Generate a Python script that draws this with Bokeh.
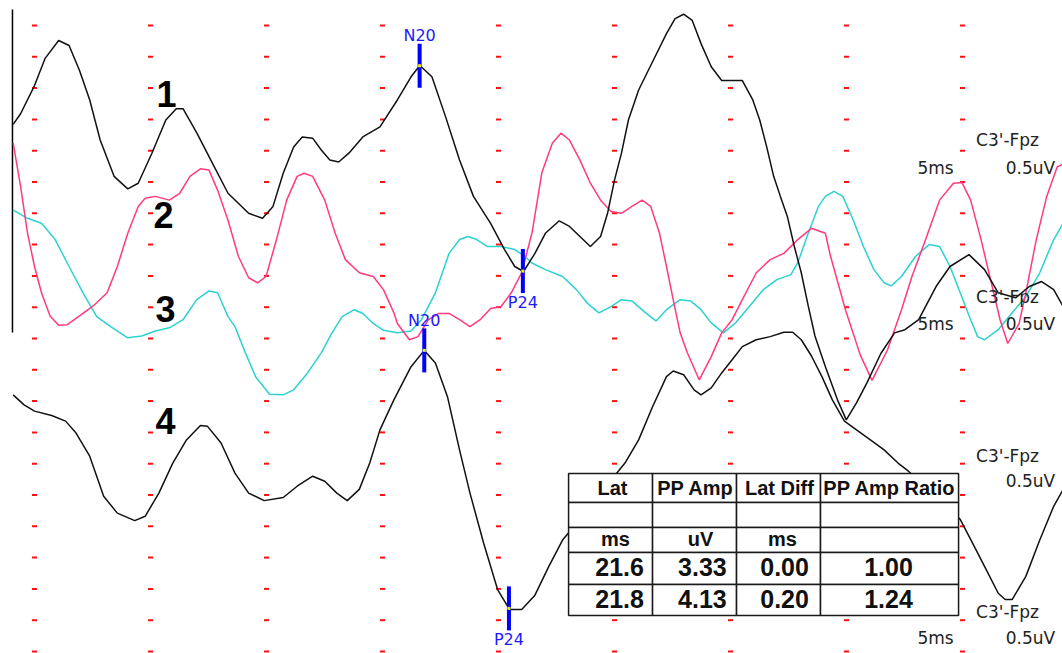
import numpy as np
from bokeh.plotting import figure
from bokeh.models import Range1d
from bokeh.embed import file_html
from bokeh.resources import INLINE
from bokeh.core.properties import value

# ---------------- data (time in ms, amplitude in uV) ----------------
t1 = [4.08, 4.40, 5.00, 5.45, 6.04, 6.49, 6.94, 7.38, 7.83, 8.43, 9.02, 9.47, 10.06, 10.66, 11.11, 11.40,
      12.00, 12.60, 13.34, 14.23, 14.83, 15.28, 15.72, 16.17, 16.54, 16.99, 17.36, 17.73, 18.11, 18.55,
      19.15, 19.89, 20.64, 21.23, 21.61, 22.13, 22.72, 23.32, 23.92, 24.66, 25.26, 25.70, 26.08, 26.57,
      27.02, 27.62, 28.06, 28.51, 28.96, 29.40, 29.70, 30.00, 30.30, 30.60, 31.04, 31.64, 32.24, 32.61,
      32.98, 33.35, 33.73, 34.17, 34.62, 35.07, 35.51, 35.96, 36.26, 36.56, 36.86, 37.15, 37.45, 37.75,
      38.05, 38.35, 38.64, 39.09, 39.61, 39.99, 40.43, 40.88, 41.48, 42.07, 42.52, 43.11, 43.86, 44.46,
      45.28, 45.95, 46.54, 47.29, 47.88, 48.41, 48.93, 49.34]
a1 = [0.92, 1.09, 1.54, 1.97, 2.26, 2.18, 1.78, 1.31, 0.67, 0.09, -0.11, -0.02, 0.46, 0.99, 1.17, 1.17,
      0.78, 0.35, -0.18, -0.50, -0.58, -0.39, 0.14, 0.56, 0.72, 0.70, 0.51, 0.35, 0.32, 0.46,
      0.72, 0.88, 1.31, 1.68, 1.86, 1.68, 1.04, 0.35, -0.23, -0.66, -1.08, -1.35, -1.43, -1.14,
      -0.82, -0.62, -0.71, -0.87, -1.03, -0.87, -0.50, 0.03, 0.46, 0.99, 1.47, 1.92, 2.37, 2.61,
      2.68, 2.58, 2.21, 1.84, 1.62, 1.62, 1.62, 1.31, 0.99, 0.56, 0.09, -0.23, -0.55, -1.03,
      -1.45, -1.98, -2.46, -2.95, -3.48, -3.80, -3.53, -3.21, -2.74, -2.41, -2.36, -2.20, -1.67, -1.35,
      -1.16, -1.40, -1.77, -1.85, -1.67, -1.59, -1.72, -1.99]

t2 = [4.08, 4.40, 4.70, 5.00, 5.30, 5.67, 6.04, 6.41, 6.94, 7.53, 8.13, 8.57, 9.02, 9.47, 9.77, 10.21,
      10.81, 11.26, 11.70, 12.15, 12.52, 12.89, 13.34, 13.79, 14.23, 14.61, 14.98, 15.43, 15.87, 16.32,
      16.62, 16.99, 17.51, 17.96, 18.40, 19.00, 19.60, 20.04, 20.49, 20.64, 21.16, 21.53, 21.98, 22.43,
      22.87, 23.32, 23.77, 24.21, 24.66, 25.11, 25.55, 26.00, 26.45, 26.87, 27.32, 27.69, 28.06, 28.51,
      28.96, 29.40, 29.85, 30.30, 30.75, 31.19, 31.56, 31.94, 32.24, 32.53, 32.83, 33.13, 33.65, 34.17,
      34.62, 35.07, 35.51, 36.11, 36.71, 37.30, 37.90, 38.49, 39.09, 39.30, 39.96, 40.60, 41.10, 41.77,
      42.37, 42.82, 43.41, 44.01, 44.61, 44.98, 45.35, 45.80, 46.24, 46.62, 46.95, 47.44, 47.73, 48.18,
      48.63, 49.08, 49.40]
a2 = [1.62, 0.93, 0.18, -0.35, -0.77, -1.14, -1.29, -1.28, -1.14, -0.98, -0.77, -0.35, 0.18, 0.61, 0.74, 0.77,
      0.71, 0.82, 1.09, 1.21, 1.19, 0.87, 0.39, -0.19, -0.53, -0.61, -0.51, 0.08, 0.71, 1.09,
      1.14, 1.09, 0.71, 0.18, -0.24, -0.45, -0.51, -0.72, -1.09, -1.26, -1.52, -1.47, -1.20, -1.10,
      -1.10, -1.20, -1.31, -1.20, -1.02, -0.99, -0.77, -0.45, 0.20, 1.15, 1.62, 1.78, 1.67, 1.35,
      0.98, 0.71, 0.53, 0.50, 0.61, 0.71, 0.61, 0.18, -0.35, -0.88, -1.41, -1.72, -2.16, -1.79,
      -1.41, -1.20, -0.88, -0.45, -0.24, -0.14, 0.08, 0.26, 0.18, -0.17, -1.05, -1.77, -2.17, -1.68,
      -1.04, -0.51, 0.08, 0.71, 0.98, 0.99, 0.71, 0.08, -0.61, -1.20, -1.58, -1.26, -0.77, 0.08,
      0.77, 1.24, 1.30]

t3 = [4.08, 4.70, 5.30, 5.89, 6.49, 7.09, 7.68, 8.28, 9.02, 9.62, 10.21, 10.81, 11.40, 11.99, 12.52, 12.89,
      13.34, 13.64, 14.09, 14.53, 15.13, 15.72, 16.17, 16.77, 17.36, 17.81, 18.26, 18.78, 19.15, 19.60,
      20.04, 20.64, 21.23, 21.68, 22.28, 22.87, 23.32, 23.69, 24.06, 24.51, 25.11, 25.70, 26.15, 26.42,
      27.02, 27.76, 28.36, 28.81, 29.33, 29.85, 30.30, 30.75, 31.34, 31.79, 32.24, 32.83, 33.28, 33.73,
      34.17, 34.69, 35.22, 35.81, 36.41, 37.00, 37.60, 37.90, 38.35, 38.79, 39.09, 39.46, 39.84, 40.28,
      40.73, 41.18, 41.62, 41.92, 42.37, 42.97, 43.56, 44.01, 44.46, 44.90, 45.35, 45.65, 45.95, 46.54,
      47.14, 47.73, 48.33, 48.93, 49.34]
a3 = [1.55, 1.42, 1.34, 1.08, 0.65, 0.23, -0.15, -0.31, -0.49, -0.46, -0.38, -0.33, -0.20, 0.12, 0.26, 0.23,
      -0.15, -0.31, -0.73, -1.11, -1.39, -1.40, -1.32, -1.05, -0.73, -0.42, -0.15, -0.04, -0.10, -0.26,
      -0.37, -0.41, -0.38, -0.20, 0.23, 0.86, 1.08, 1.13, 1.08, 0.97, 0.97, 0.92, 0.81, 0.71,
      0.60, 0.49, 0.28, 0.07, -0.09, 0.01, 0.12, 0.10, -0.09, -0.22, -0.04, 0.12, 0.10, -0.04,
      -0.25, -0.41, -0.25, 0.01, 0.28, 0.44, 0.52, 0.71, 1.18, 1.61, 1.77, 1.85, 1.77, 1.40,
      0.97, 0.60, 0.39, 0.34, 0.49, 0.81, 1.00, 0.97, 0.65, 0.23, -0.20, -0.47, -0.52, -0.36,
      -0.09, 0.17, 0.55, 1.08, 1.34]

t4 = [4.08, 4.55, 5.00, 5.74, 6.34, 6.79, 7.38, 7.98, 8.57, 9.32, 9.77, 10.36, 10.96, 11.55, 12.15, 12.45,
      13.04, 13.64, 14.23, 14.90, 15.72, 16.32, 16.99, 17.51, 18.03, 18.48, 19.00, 19.45, 19.89, 20.49,
      21.23, 21.80, 22.28, 22.80, 23.32, 23.77, 24.36, 24.96, 25.48, 26.00, 26.57, 27.17, 27.76, 28.14,
      30.45, 31.04, 31.64, 32.24, 32.53, 32.98, 33.43, 33.73, 34.17, 34.62, 35.07, 35.51, 36.11, 36.71,
      37.30, 37.68, 38.05, 38.49, 38.94, 39.39, 39.91, 40.43, 41.03, 41.62, 42.22, 42.67, 44.90, 45.35,
      45.95, 46.54, 46.84, 47.14, 47.73, 48.33, 48.93, 49.34]
a4 = [0.60, 0.44, 0.34, 0.27, 0.18, -0.01, -0.38, -1.02, -1.29, -1.41, -1.34, -0.97, -0.49, -0.12, 0.11, 0.10,
      -0.17, -0.65, -0.97, -1.09, -1.04, -0.86, -0.70, -0.78, -0.97, -1.09, -0.91, -0.49, 0.04, 0.52,
      1.05, 1.31, 1.11, 0.57, -0.28, -0.97, -1.77, -2.51, -2.83, -2.83, -2.60, -2.14, -1.72, -1.55,
      -0.49, -0.12, 0.41, 0.89, 0.98, 0.92, 0.68, 0.60, 0.71, 0.95, 1.16, 1.37, 1.48, 1.53,
      1.60, 1.60, 1.48, 1.22, 0.89, 0.52, 0.18, 0.04, -0.12, -0.28, -0.49, -0.62, -1.39, -1.71,
      -2.14, -2.57, -2.67, -2.67, -2.30, -1.72, -1.18, -0.91]

trace_offsets = [7.5, 6.5, 5.5, 3.5]          # display baseline of each trace (uV)
trace_names = ["1", "2", "3", "4"]
channel = "C3'-Fpz"
time_scale = "5ms"
amp_scale = "0.5uV"

# peak markers: (trace index, label, latency ms)
marker_trace = [0, 0, 3, 3]
marker_label = ["N20", "P24", "N20", "P24"]
marker_lat = [21.6, 26.05, 21.8, 25.45]

# result table
tab_header = ["Lat", "PP Amp", "Lat Diff", "PP Amp Ratio"]
tab_units = ["ms", "uV", "ms", ""]
tab_row1 = ["21.6", "3.33", "0.00", "1.00"]
tab_row2 = ["21.8", "4.13", "0.20", "1.24"]

# grid divisions
grid_t = np.arange(5, 46, 5)          # every 5 ms
grid_a = np.arange(0, 10.01, 0.5)     # every 0.5 uV

# ---------------- figure ----------------
p = figure(width=1062, height=653, output_backend="svg", toolbar_location=None,
           x_range=Range1d(3.534, 49.310), y_range=Range1d(-0.032, 10.399),
           x_axis_location=None, y_axis_location=None, min_border=0,
           outline_line_color=None, background_fill_color="white", border_fill_color="white")
p.grid.grid_line_color = None

# red dotted grid
gx, gy = np.meshgrid(grid_t, grid_a)
p.rect(x=gx.ravel(), y=gy.ravel(), width=5, height=2, width_units="screen", height_units="screen",
       fill_color="#ff1010", line_color=None)

# left vertical line at sweep start
p.segment(x0=[t1[0] - 0.03], y0=[5.096], x1=[t1[0] - 0.03], y1=[10.256], line_color="black", line_width=1.5)

ts = [t1, t2, t3, t4]
amps = [a1, a2, a3, a4]
colors = ["#111111", "#ff3a80", "#2cd2d2", "#111111"]
for i in [2, 1, 0, 3]:
    p.line(ts[i], np.array(amps[i]) + trace_offsets[i], line_color=colors[i], line_width=1.5)

# trace numbers (y = visual centre)
num_x = [10.26, 10.13, 10.22, 10.22]
num_y = [8.906, 6.965, 5.471, 3.674]
p.text(x=num_x, y=num_y, text=trace_names, text_font=value("Liberation Sans"), text_font_style="bold",
       text_font_size="36px", text_align="left", text_baseline="middle", text_color="black")

# markers
mx = np.array(marker_lat)
my = np.array([np.interp(l, ts[k], amps[k]) + trace_offsets[k] for k, l in zip(marker_trace, marker_lat)])
p.rect(x=mx, y=my, width=4, height=44, width_units="screen", height_units="screen",
       fill_color="#0000ff", line_color=None)
p.scatter(x=mx, y=my, size=3, marker="square", fill_color="#f0f000", line_color=None)
for lab, off in [("N20", -30), ("P24", 31)]:
    sel = [i for i, l in enumerate(marker_label) if l == lab]
    p.text(x=mx[sel], y=my[sel], text=[lab] * len(sel), y_offset=off, text_font=value("DejaVu Sans"),
           text_font_size="16px", text_align="center", text_baseline="middle", text_color="#1a1aff")

# channel labels on right
ch_y = [8.171, 5.663, 3.115, 0.631]
sc_y = [7.724, 5.232, 2.716, 0.208]
p.text(x=[46.94] * 4, y=ch_y, text=[channel] * 4, text_font=value("DejaVu Sans"), text_font_size="17px",
       text_align="center", text_baseline="middle", text_color="#222222")
p.text(x=[43.84, 43.84, 43.84], y=[sc_y[0], sc_y[1], sc_y[3]], text=[time_scale] * 3,
       text_font=value("DejaVu Sans"), text_font_size="17px", text_align="center",
       text_baseline="middle", text_color="#222222")
p.text(x=[47.93] * 4, y=sc_y, text=[amp_scale] * 4, text_font=value("DejaVu Sans"), text_font_size="17px",
       text_align="center", text_baseline="middle", text_color="#222222")

# table
col_b = [28.02, 31.64, 35.26, 38.88, 44.83]
row_b = [2.843, 2.380, 1.981, 1.581, 1.070, 0.575]
L, R, T, B = [], [], [], []
for r in range(5):
    for c in range(4):
        L.append(col_b[c]); R.append(col_b[c + 1]); T.append(row_b[r]); B.append(row_b[r + 1])
p.quad(left=L, right=R, top=T, bottom=B, fill_color="white", line_color="#1a1a1a", line_width=1.5)

p.text(x=[29.91, 33.49, 37.11, 41.85], y=[2.604] * 4, text=tab_header, text_font=value("Liberation Sans"),
       text_font_style="bold", text_font_size="20px", text_align="center", text_baseline="middle",
       text_color="#111111")
p.text(x=[30.04, 33.71, 37.24, 41.85], y=[1.805] * 4, text=tab_units, text_font=value("Liberation Sans"),
       text_font_style="bold", text_font_size="20px", text_align="center", text_baseline="middle",
       text_color="#111111")
vx = [30.22, 33.79, 37.33, 41.81]
p.text(x=vx, y=[1.350] * 4, text=tab_row1, text_font=value("Liberation Sans"), text_font_style="bold",
       text_font_size="25px", text_align="center", text_baseline="middle", text_color="#111111")
p.text(x=vx, y=[0.839] * 4, text=tab_row2, text_font=value("Liberation Sans"), text_font_style="bold",
       text_font_size="25px", text_align="center", text_baseline="middle", text_color="#111111")

open("out.html", "w").write(file_html(p, INLINE))
